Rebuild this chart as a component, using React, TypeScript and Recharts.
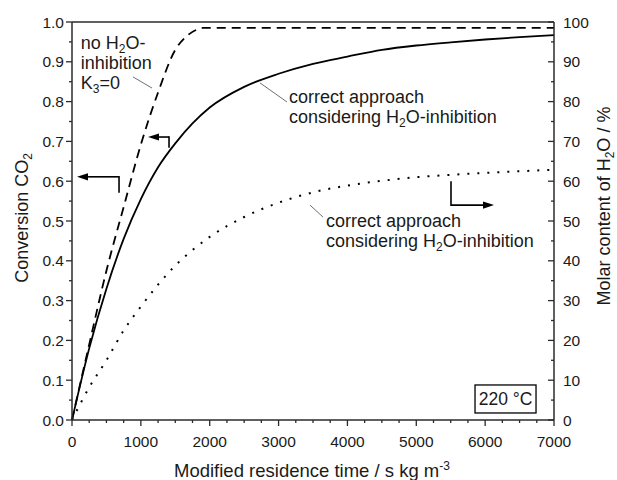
import React from "react";
import { LineChart, Line, XAxis, YAxis, ReferenceLine, ReferenceDot } from "recharts";

const FONT = '"Liberation Sans", Arial, Helvetica, sans-serif';
const INK = "#1a1a1a";
const AXIS = "#2b2b2b";
const POINTER = "#707070";

// modified residence time grid, s kg m^-3
const timeGrid = [0, 250, 500, 750, 1000, 1250, 1500, 1750, 2000, 2500, 3000, 3500, 4000, 4500, 5000, 5500, 6000, 6500, 7000];
// CO2 conversion, correct approach (H2O inhibition)
const conversionCorrect = [0, 0.18, 0.33, 0.455, 0.555, 0.635, 0.695, 0.745, 0.785, 0.837, 0.87, 0.895, 0.913, 0.93, 0.941, 0.949, 0.956, 0.962, 0.967];
// molar H2O content in %, correct approach
const h2oContent = [0, 8.2, 15, 22.5, 28.5, 34, 38.8, 42.7, 46, 51, 54.6, 57.2, 58.9, 60.1, 61, 61.6, 62.1, 62.5, 62.9];

// no H2O inhibition, K3 = 0
const timeNoInhibition = [0, 250, 500, 750, 1000, 1250, 1500, 1650, 1800, 1900, 7000];
const conversionNoInhibition = [0, 0.19, 0.375, 0.535, 0.692, 0.823, 0.93, 0.962, 0.98, 0.985, 0.985];

const xMajorTicks = [0, 1000, 2000, 3000, 4000, 5000, 6000, 7000];
const leftMajorTicks = [0, 0.1, 0.2, 0.3, 0.4, 0.5, 0.6, 0.7, 0.8, 0.9, 1.0];
const rightMajorTicks = [0, 10, 20, 30, 40, 50, 60, 70, 80, 90, 100];

const withMinors = (majors: number[], parts: number) => {
  const out: number[] = [];
  majors.forEach((m, i) => {
    out.push(m);
    if (i < majors.length - 1) {
      const step = (majors[i + 1] - m) / parts;
      for (let k = 1; k < parts; k++) out.push(m + step * k);
    }
  });
  return out;
};

const isMajor = (list: number[], v: number) => list.some((m) => Math.abs(m - v) < 1e-9);

const conversionData = timeGrid.map((t, i) => ({ t, v: conversionCorrect[i] }));
const h2oData = timeGrid.map((t, i) => ({ t, v: h2oContent[i] }));
const noInhibitionData = timeNoInhibition.map((t, i) => ({ t, v: conversionNoInhibition[i] }));

// annotation arrows (data coords), arrowhead at the last point
const arrows = [
  { axis: "left", pts: [[683, 0.573], [683, 0.611], [73, 0.611]] },
  { axis: "left", pts: [[1409, 0.686], [1409, 0.711], [1104, 0.711]] },
  { axis: "right", pts: [[5504, 59.8], [5504, 54.0], [6129, 54.0]] },
];

// thin leader lines from labels to curves
const pointers = [
  [[886, 0.862], [1162, 0.834]],
  [[2730, 0.847], [3122, 0.799]],
  [[3456, 0.54], [3645, 0.51]],
];

type Part = [string, ("sub" | "sup")?];

const labels: { x: number; y: number; lines: Part[][] }[] = [
  { x: 126, y: 0.932, lines: [[["no H"], ["2", "sub"], ["O-"]], [["inhibition"]], [["K"], ["3", "sub"], ["=0"]]] },
  { x: 3151, y: 0.796, lines: [[["correct approach"]], [["considering H"], ["2", "sub"], ["O-inhibition"]]] },
  { x: 3689, y: 0.485, lines: [[["correct approach"]], [["considering H"], ["2", "sub"], ["O-inhibition"]]] },
];

function Rich({ parts, small = 12 }: { parts: Part[]; small?: number }) {
  let shift = 0;
  return (
    <>
      {parts.map(([s, kind], i) => {
        const target = kind === "sub" ? 4 : kind === "sup" ? -7 : 0;
        const dy = target - shift;
        shift = target;
        return (
          <tspan key={i} dy={dy} fontSize={kind ? small : undefined}>
            {s}
          </tspan>
        );
      })}
    </>
  );
}

function BottomTick({ x, y, payload }: any) {
  const major = isMajor(xMajorTicks, payload.value);
  return (
    <g>
      <line x1={x} y1={y} x2={x} y2={y + (major ? 6 : 3)} stroke={AXIS} strokeWidth={1.3} />
      {major && (
        <text x={x} y={y + 27} textAnchor="middle" fontSize={15.5} fill={INK} fontFamily={FONT}>
          {payload.value}
        </text>
      )}
    </g>
  );
}

function LeftTick({ x, y, payload }: any) {
  const major = isMajor(leftMajorTicks, payload.value);
  return (
    <g>
      <line x1={x - (major ? 6 : 3)} y1={y} x2={x} y2={y} stroke={AXIS} strokeWidth={1.3} />
      {major && (
        <text x={x - 8} y={y + 5.5} textAnchor="end" fontSize={15.5} fill={INK} fontFamily={FONT}>
          {payload.value.toFixed(1)}
        </text>
      )}
    </g>
  );
}

function RightTick({ x, y, payload }: any) {
  const major = isMajor(rightMajorTicks, payload.value);
  return (
    <g>
      <line x1={x - (major ? 6 : 3)} y1={y} x2={x} y2={y} stroke={AXIS} strokeWidth={1.3} />
      {major && (
        <text x={x + 9} y={y + 5.5} textAnchor="start" fontSize={15.5} fill={INK} fontFamily={FONT}>
          {Math.round(payload.value)}
        </text>
      )}
    </g>
  );
}

const arrowShape = (props: any) => {
  const { x1, y1, x2, y2 } = props;
  const a = Math.atan2(y2 - y1, x2 - x1);
  const len = 11;
  const half = 3.6;
  const bx = x2 - len * Math.cos(a);
  const by = y2 - len * Math.sin(a);
  const px = -Math.sin(a) * half;
  const py = Math.cos(a) * half;
  return (
    <g>
      <line x1={x1} y1={y1} x2={bx} y2={by} stroke="#000" strokeWidth={1.6} />
      <polygon points={`${x2},${y2} ${bx + px},${by + py} ${bx - px},${by - py}`} fill="#000" />
    </g>
  );
};

const plainShape = (props: any) => (
  <line x1={props.x1} y1={props.y1} x2={props.x2} y2={props.y2} stroke="#000" strokeWidth={1.6} strokeLinecap="square" />
);

const labelShape = (lines: Part[][]) => (props: any) => (
  <text x={props.cx} y={props.cy} fontSize={18} fill={INK} fontFamily={FONT}>
    {lines.map((ln, i) => (
      <tspan key={i} x={props.cx} y={props.cy + i * 19.8}>
        <Rich parts={ln} />
      </tspan>
    ))}
  </text>
);

const tempBox = (props: any) => (
  <g>
    <rect x={props.cx - 30.5} y={props.cy - 14} width={61} height={28} fill="#fff" stroke="#000" strokeWidth={1.3} />
    <text x={props.cx} y={props.cy + 6.3} textAnchor="middle" fontSize={17.5} fill={INK} fontFamily={FONT}>
      220 °C
    </text>
  </g>
);

export default function App() {
  return (
    <div style={{ position: "absolute", left: 0, top: 0, width: 617, height: 480, background: "#fff" }}>
      <LineChart width={617} height={480} margin={{ top: 22, right: 0, bottom: 0, left: 0 }}>
        <XAxis
          type="number"
          dataKey="t"
          domain={[0, 7000]}
          ticks={withMinors(xMajorTicks, 4)}
          interval={0}
          height={60}
          tickSize={0}
          tickMargin={0}
          tickLine={false}
          tick={<BottomTick />}
          axisLine={{ stroke: AXIS, strokeWidth: 1.5 }}
        />
        <YAxis
          yAxisId="left"
          type="number"
          domain={[0, 1]}
          ticks={withMinors(leftMajorTicks, 2)}
          interval={0}
          width={72}
          tickSize={0}
          tickMargin={0}
          tickLine={false}
          tick={<LeftTick />}
          axisLine={{ stroke: AXIS, strokeWidth: 1.5 }}
        />
        <YAxis
          yAxisId="right"
          orientation="right"
          type="number"
          domain={[0, 100]}
          ticks={withMinors(rightMajorTicks, 2)}
          interval={0}
          width={63}
          tickSize={0}
          tickMargin={0}
          tickLine={false}
          tick={<RightTick />}
          axisLine={{ stroke: AXIS, strokeWidth: 1.5 }}
        />
        <ReferenceLine yAxisId="left" y={1} stroke={AXIS} strokeWidth={1.5} />

        <Line
          yAxisId="left"
          data={noInhibitionData}
          dataKey="v"
          type="monotone"
          stroke="#000"
          strokeWidth={1.8}
          strokeDasharray="9 6"
          dot={false}
          isAnimationActive={false}
        />
        <Line
          yAxisId="left"
          data={conversionData}
          dataKey="v"
          type="monotone"
          stroke="#000"
          strokeWidth={1.8}
          dot={false}
          isAnimationActive={false}
        />
        <Line
          yAxisId="right"
          data={h2oData}
          dataKey="v"
          type="monotone"
          stroke="#000"
          strokeWidth={2}
          strokeDasharray="2 8"
          dot={false}
          isAnimationActive={false}
        />

        {pointers.map((p, i) => (
          <ReferenceLine
            key={`p${i}`}
            yAxisId="left"
            segment={[{ x: p[0][0], y: p[0][1] }, { x: p[1][0], y: p[1][1] }]}
            stroke={POINTER}
            strokeWidth={1}
          />
        ))}

        {arrows.map((a, i) =>
          a.pts.slice(1).map((pt, j) => (
            <ReferenceLine
              key={`a${i}-${j}`}
              yAxisId={a.axis}
              segment={[{ x: a.pts[j][0], y: a.pts[j][1] }, { x: pt[0], y: pt[1] }]}
              shape={j === a.pts.length - 2 ? arrowShape : plainShape}
            />
          ))
        )}

        {labels.map((l, i) => (
          <ReferenceDot key={`l${i}`} yAxisId="left" x={l.x} y={l.y} r={0} shape={labelShape(l.lines)} />
        ))}
        <ReferenceDot yAxisId="left" x={6296} y={0.0528} r={0} shape={tempBox} />
      </LineChart>

      <svg
        width={617}
        height={480}
        style={{ position: "absolute", left: 0, top: 0, pointerEvents: "none" }}
        fontFamily={FONT}
        fill={INK}
      >
        <text x={312} y={477} textAnchor="middle" fontSize={18.5}>
          <Rich parts={[["Modified residence time / s kg m"], ["-3", "sup"]]} />
        </text>
        <text transform="translate(28,218) rotate(-90)" textAnchor="middle" fontSize={18}>
          <Rich parts={[["Conversion CO"], ["2", "sub"]]} />
        </text>
        <text transform="translate(610,206) rotate(-90)" textAnchor="middle" fontSize={18}>
          <Rich parts={[["Molar content of H"], ["2", "sub"], ["O / %"]]} />
        </text>
      </svg>
    </div>
  );
}
